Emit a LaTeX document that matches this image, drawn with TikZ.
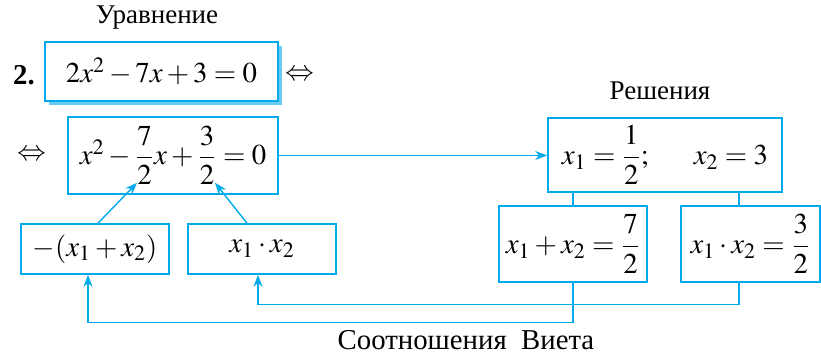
\documentclass[tikz,border=0pt]{standalone}
\usepackage{amsmath}
\usepackage{mathptmx}
\usepackage{fontspec}
\setmainfont{Liberation Serif}
\usepackage{xcolor}
\usepackage{tikz}
\usetikzlibrary{arrows.meta,positioning,calc,shadows}
\definecolor{vietablue}{RGB}{0,170,235}
\tikzset{
  block/.style={
    rectangle,
    draw=vietablue,
    line width=0.8pt,
    fill=white,
    inner sep=0pt,
    align=center,
    font=\Large
  },
  arrow/.style={
    -{Stealth[length=6pt,width=4.5pt]},
    draw=vietablue,
    line width=0.7pt
  },
  link/.style={
    draw=vietablue,
    line width=0.7pt
  },
  caption/.style={
    font=\fontsize{13.5}{16}\selectfont
  }
}

\begin{document}
\begin{tikzpicture}[x=0.5pt,y=-0.5pt]
\useasboundingbox (0,0) rectangle (821,356);

% equation and its reduced form
\node[block, minimum width=116.5pt, minimum height=29.5pt,
  drop shadow={shadow xshift=2pt, shadow yshift=-2pt, fill=vietablue!60, opacity=1}]
  (eq) at (161.5,71.5) {$2x^2-7x+3=0$};
\node[block, minimum width=105pt, minimum height=38.5pt] (reduced) at (173,155.5)
  {$x^2-\dfrac{7}{2}x+\dfrac{3}{2}=0$};

\node[caption] (eqlabel) at (157,18) {Уравнение};
\node[font=\Large\bfseries] (num) at (24,75) {2.};
\node[font=\Large] (eqv1) at (300,75) {$\Leftrightarrow$};
\node[font=\Large] (eqv2) at (32,155) {$\Leftrightarrow$};

% roots
\node[block, minimum width=117pt, minimum height=37pt] (roots) at (665,155)
  {$x_1=\dfrac{1}{2};\quad\;\; x_2=3$};
\node[caption] (rootslabel) at (660,91) {Решения};

\node[block, minimum width=74pt, minimum height=38pt] (sum) at (573,244)
  {$x_1+x_2=\dfrac{7}{2}$};
\node[block, minimum width=69.5pt, minimum height=38pt] (prod) at (750.5,244)
  {$x_1\cdot x_2=\dfrac{3}{2}$};

% coefficients
\node[block, minimum width=74pt, minimum height=25pt] (negsum) at (95,249)
  {$-(x_1+x_2)$};
\node[block, minimum width=74pt, minimum height=25pt] (prodl) at (262,249)
  {$x_1\cdot x_2$};

\node[font=\Large] (vieta) at (466,340) {Соотношения\ \ Виета};

\coordinate (fr7) at ($(reduced.south)+(-36,-12)$);
\coordinate (fr3) at ($(reduced.south)+(42,-12)$);
\coordinate (pj) at ($(prod.north)+(-11.5,0)$);

\draw[arrow] (reduced.east) -- (reduced.east -| roots.west);
\draw[link] (sum.north) -- (sum.north |- roots.south);
\draw[link] (pj) -- (pj |- roots.south);
\draw[arrow] ($(negsum.north)+(3,0)$) -- (fr7);
\draw[arrow] ($(prodl.north)+(-15,0)$) -- (fr3);
\draw[arrow] (sum.south) -- ++(0,40) -| ($(negsum.south)+(-7,0)$);
\draw[arrow] ($(prod.south)+(-11.5,0)$) -- ++(0,22) -| ($(prodl.south)+(-4,0)$);

\end{tikzpicture}
\end{document}
